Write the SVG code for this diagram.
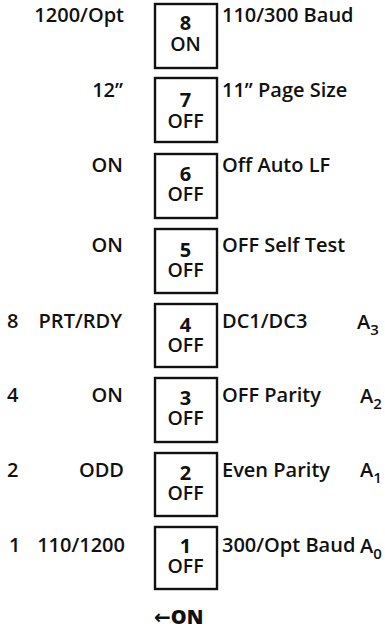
<svg xmlns="http://www.w3.org/2000/svg" width="385" height="629" viewBox="0 0 385 629">
<style>
text{font-family:"Open Sans","DejaVu Sans",sans-serif;font-size:20px;font-weight:600;fill:#111}
.box{fill:#fff;stroke:#111;stroke-width:2.4}
.sw{text-anchor:middle}
.num{font-weight:700}
.st{font-size:19.5px;font-weight:600}
.l{text-anchor:end}
.sub{font-size:15px}
.on{font-weight:800}
</style>
<rect width="385" height="629" fill="#fff"/>
<g id="connectors"></g>
<g id="sw8">
<rect class="box" x="155" y="4" width="62" height="64"/>
<text class="sw" x="185.5" y="30"><tspan class="num">8</tspan><tspan class="st" x="185.5" dy="21">ON</tspan></text>
<text class="l" x="124" y="22">1200/Opt</text><text x="222" y="22">110/300 Baud</text>
</g>
<g id="sw7">
<rect class="box" x="155" y="78" width="62" height="64"/>
<text class="sw" x="185.5" y="107"><tspan class="num">7</tspan><tspan class="st" x="185.5" dy="21">OFF</tspan></text>
<text class="l" x="123" y="97">12”</text><text x="222" y="97">11” Page Size</text>
</g>
<g id="sw6">
<rect class="box" x="155" y="154" width="62" height="64"/>
<text class="sw" x="185.5" y="181"><tspan class="num">6</tspan><tspan class="st" x="185.5" dy="20">OFF</tspan></text>
<text class="l" x="123" y="172">ON</text><text x="222" y="172">Off Auto LF</text>
</g>
<g id="sw5">
<rect class="box" x="155" y="229" width="62" height="64"/>
<text class="sw" x="185.5" y="257"><tspan class="num">5</tspan><tspan class="st" x="185.5" dy="20">OFF</tspan></text>
<text class="l" x="123" y="252">ON</text><text x="222" y="252">OFF Self Test</text>
</g>
<g id="sw4">
<rect class="box" x="155" y="304" width="62" height="63"/>
<text class="sw" x="185.5" y="332"><tspan class="num">4</tspan><tspan class="st" x="185.5" dy="20">OFF</tspan></text>
<text x="7" y="328">8</text><text class="l" x="122" y="328">PRT/RDY</text><text x="222" y="328">DC1/DC3</text>
<text x="357" y="329">A<tspan class="sub" dy="6">3</tspan></text>
</g>
<g id="sw3">
<rect class="box" x="155" y="378" width="62" height="64"/>
<text class="sw" x="185.5" y="405"><tspan class="num">3</tspan><tspan class="st" x="185.5" dy="20">OFF</tspan></text>
<text x="7" y="402">4</text><text class="l" x="123" y="402">ON</text><text x="222" y="402">OFF Parity</text>
<text x="360" y="403">A<tspan class="sub" dy="6">2</tspan></text>
</g>
<g id="sw2">
<rect class="box" x="155" y="453" width="62" height="63"/>
<text class="sw" x="185.5" y="480"><tspan class="num">2</tspan><tspan class="st" x="185.5" dy="20">OFF</tspan></text>
<text x="7" y="477">2</text><text class="l" x="124" y="477">ODD</text><text x="222" y="477">Even Parity</text>
<text x="360" y="477">A<tspan class="sub" dy="6">1</tspan></text>
</g>
<g id="sw1">
<rect class="box" x="155" y="527" width="62" height="62"/>
<text class="sw" x="185.5" y="553"><tspan class="num">1</tspan><tspan class="st" x="185.5" dy="20">OFF</tspan></text>
<text x="9" y="552">1</text><text class="l" x="125" y="552">110/1200</text><text x="222" y="552">300/Opt Baud</text>
<text x="360" y="553">A<tspan class="sub" dy="6">0</tspan></text>
</g>
<g id="legend">
<text class="on" x="154" y="624">←ON</text>
</g>
</svg>
